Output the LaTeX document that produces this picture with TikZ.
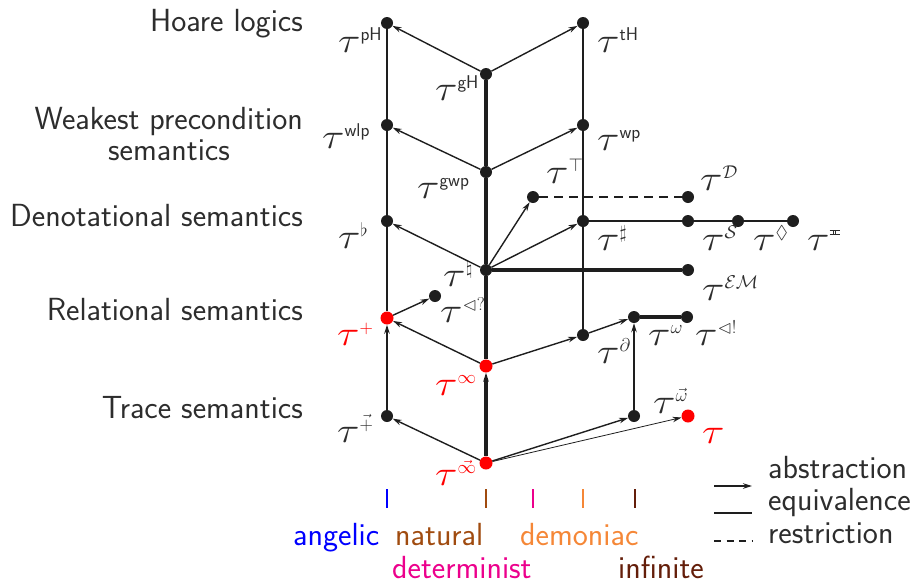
\RequirePackage{fix-cm}
\documentclass[tikz,border=0pt]{standalone}
\usepackage{amsmath,amssymb}
\usepackage{fontspec}
\usetikzlibrary{arrows.meta}
\DeclareMathSizes{32}{32}{18.5}{14}
\definecolor{ink}{RGB}{30,30,30}
\definecolor{labgray}{RGB}{45,45,45}
\definecolor{natbrown}{RGB}{160,75,15}
\definecolor{detmag}{RGB}{236,0,140}
\definecolor{demor}{RGB}{245,135,55}
\definecolor{infbrown}{RGB}{100,30,10}
\newcommand\T{\scalebox{1.3}[1.1]{$\tau$}}
\newcommand\Tl[1]{$\T^{#1}$}
\newcommand\eqtick{\text{\rlap{\rule[0.95ex]{0.55em}{0.07em}}\rlap{\rule[0.45ex]{0.55em}{0.07em}}\kern0.18em\rule[0.45ex]{0.05em}{0.5ex}\kern0.09em\rule[0.45ex]{0.05em}{0.5ex}\kern0.18em}}
\begin{document}
\begin{tikzpicture}[x=1pt,y=-1pt,
  font=\fontsize{32}{36}\selectfont\sffamily,
  dot/.style={circle,fill=ink,inner sep=0,minimum size=12pt},
  rdot/.style={circle,fill=red,inner sep=0,minimum size=13pt},
  eqv/.style={draw=ink,line width=2.4pt},
  eqvT/.style={draw=ink,line width=3.2pt},
  restr/.style={draw=ink,line width=2.2pt,dash pattern=on 9pt off 6pt},
  abs/.style={draw=ink,line width=1.4pt,-{Stealth[length=9pt,width=5.5pt]}},
  absthin/.style={draw=ink,line width=0.8pt,-{Stealth[length=9pt,width=5.5pt]}},
  lab/.style={anchor=base west,inner sep=0,text=labgray},
  rlab/.style={anchor=base west,inner sep=0,text=red},
  title/.style={anchor=base east,inner sep=0,text=labgray},
  tick/.style={line width=2.2pt}
]
\useasboundingbox (0,0) rectangle (913,584);
% nodes
\node[dot] (pH) at (387,23) {};
\node[dot] (tH) at (583,23) {};
\node[dot] (gH) at (486,74) {};
\node[dot] (wlp) at (387,125) {};
\node[dot] (wp) at (583,125) {};
\node[dot] (gwp) at (486,172) {};
\node[dot] (top) at (533,197) {};
\node[dot] (D) at (688,197) {};
\node[dot] (flat) at (387,221) {};
\node[dot] (sharp) at (583,221) {};
\node[dot] (S) at (688,221) {};
\node[dot] (lz) at (738,221) {};
\node[dot] (eqt) at (793,221) {};
\node[dot] (nat) at (486,270) {};
\node[dot] (EM) at (688,270) {};
\node[dot] (lq) at (435,296) {};
\node[rdot] (plus) at (387,318) {};
\node[dot] (om) at (634,317) {};
\node[dot] (lex) at (687,317) {};
\node[dot] (part) at (583,335) {};
\node[rdot] (inf) at (486,366) {};
\node[dot] (vplus) at (387,416) {};
\node[dot] (vom) at (634,416) {};
\node[rdot] (tau) at (688,416) {};
\node[rdot] (vinf) at (486,463) {};
% equivalences
\draw[eqv] (pH)--(wlp)--(flat)--(plus);
\draw[eqvT] (gH)--(gwp)--(nat)--(inf);
\draw[eqv] (tH)--(wp)--(sharp)--(part);
\draw[eqv] (sharp)--(S)--(lz)--(eqt);
\draw[eqvT] (nat)--(EM);
\draw[eqvT] (om)--(lex);
\draw[restr] (top)--(D);
% abstractions
\draw[abs] (gH)--(pH);
\draw[abs] (gH)--(tH);
\draw[abs] (gwp)--(wlp);
\draw[abs] (gwp)--(wp);
\draw[abs] (nat)--(flat);
\draw[abs] (nat)--(top);
\draw[abs] (nat)--(sharp);
\draw[abs] (plus)--(lq);
\draw[abs] (inf)--(plus);
\draw[abs] (inf)--(part);
\draw[abs] (part)--(om);
\draw[abs,line width=2.4pt] (vom)--(om);
\draw[abs,line width=2.4pt] (vplus)--(plus);
\draw[abs,line width=3.2pt] (vinf)--(inf);
\draw[abs] (vinf)--(vplus);
\draw[abs] (vinf)--(vom);
\draw[absthin] (vinf)--(tau);
% labels
\node[lab] (LpH) at (338,52) {\Tl{\textsf{pH}}};
\node[lab] (LtH) at (597,52) {\Tl{\textsf{tH}}};
\node[lab] (LgH) at (435,100) {\Tl{\textsf{gH}}};
\node[lab] (Lwlp) at (322,148) {\Tl{\textsf{wlp}}};
\node[lab] (Lwp) at (597,150) {\Tl{\textsf{wp}}};
\node[lab] (Lgwp) at (417,198) {\Tl{\textsf{gwp}}};
\node[lab] (Ltop) at (546,183) {\Tl{\top}};
\node[lab] (LD) at (700,190) {\Tl{\mathcal{D}}};
\node[lab] (Lflat) at (338,248) {\Tl{\flat}};
\node[lab] (Lsharp) at (597,250) {\Tl{\sharp}};
\node[lab] (LS) at (702,250) {\Tl{\mathcal{S}}};
\node[lab] (Llz) at (753,250) {\Tl{\lozenge}};
\node[lab] (Leqt) at (807,250) {\Tl{\eqtick}};
\node[lab] (Lnat) at (443,286) {\Tl{\natural}};
\node[lab] (LEM) at (702,300) {\Tl{\mathcal{EM}}};
\node[lab] (Llq) at (440,322) {\Tl{\lhd\mathord{?}}};
\node[rlab] (Lplus) at (337,345) {\Tl{+}};
\node[lab] (Lom) at (648,345) {\Tl{\omega}};
\node[lab] (Llex) at (695,345) {\Tl{\lhd !}};
\node[lab] (Lpart) at (597,363) {\Tl{\partial}};
\node[rlab] (Linf) at (435,395) {\Tl{\infty}};
\node[lab] (Lvplus) at (337,442) {\Tl{\vec{+}}};
\node[lab] (Lvom) at (653,413) {\Tl{\vec{\omega}}};
\node[rlab] (Ltau) at (702,443) {$\T$};
\node[rlab] (Lvinf) at (435,485) {\Tl{\vec{\infty}}};
% row titles
\node[title] (t1) at (303,31) {Hoare logics};
\node[title] (t2) at (303,129) {Weakest precondition};
\node[anchor=base,inner sep=0,text=labgray] (t2b) at (169,160) {semantics};
\node[title] (t3) at (303,226) {Denotational semantics};
\node[title] (t4) at (303,320) {Relational semantics};
\node[title] (t5) at (303,418) {Trace semantics};
% ticks
\draw[tick,blue,line width=1.6pt] (387,489)--(387,508);
\draw[tick,natbrown,line width=2.6pt] (486,489)--(486,508);
\draw[tick,detmag,line width=1.8pt] (533,489)--(533,508);
\draw[tick,demor,line width=2.6pt] (583,489)--(583,508);
\draw[tick,infbrown,line width=2pt] (635,489)--(635,508);
\node[anchor=base west,inner sep=0,text=blue] (ang) at (293,545) {angelic};
\node[anchor=base west,inner sep=0,text=natbrown] (natl) at (395,545) {natural};
\node[anchor=base west,inner sep=0,text=demor] (dem) at (520,545) {demoniac};
\node[anchor=base west,inner sep=0,text=detmag] (det) at (392,578) {determinist};
\node[anchor=base west,inner sep=0,text=infbrown] (infl) at (618,578) {infinite};
% legend
\coordinate (a1) at (714,486); \coordinate (a2) at (752,486);
\coordinate (e1) at (714,513); \coordinate (e2) at (752,513);
\coordinate (r1) at (714,541); \coordinate (r2) at (752,541);
\draw[abs,line width=2.4pt] (a1)--(a2);
\draw[eqv] (e1)--(e2);
\draw[draw=ink,line width=1.6pt,dash pattern=on 7pt off 5.5pt] (r1)--(r2);
\node[anchor=base west,inner sep=0,text=labgray] (la) at (768,478) {abstraction};
\node[anchor=base west,inner sep=0,text=labgray] (le) at (768,510) {equivalence};
\node[anchor=base west,inner sep=0,text=labgray] (lr) at (768,543) {restriction};
\end{tikzpicture}
\end{document}
